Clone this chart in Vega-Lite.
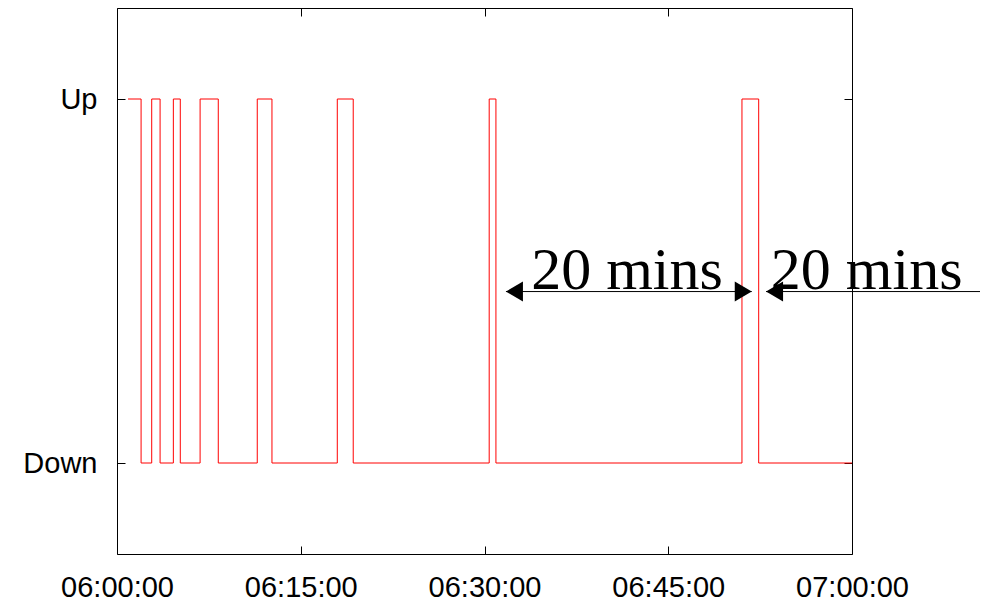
{
  "$schema": "https://vega.github.io/schema/vega-lite/v6.json",
  "width": 735,
  "height": 546,
  "autosize": {"type": "none"},
  "padding": {"left": 117, "top": 8, "right": 137, "bottom": 48},
  "background": "white",
  "config": {
    "view": {"stroke": null},
    "axis": {
      "domainColor": "black",
      "domainWidth": 1,
      "tickColor": "black",
      "tickWidth": 1,
      "grid": false,
      "title": null,
      "labelFont": "Liberation Sans",
      "labelFontSize": 29,
      "labelColor": "black"
    }
  },
  "datasets": {
    "series": [
      {"t": "2020-01-01T06:00:54", "state": 1},
      {"t": "2020-01-01T06:01:58", "state": 0},
      {"t": "2020-01-01T06:02:50", "state": 1},
      {"t": "2020-01-01T06:03:31", "state": 0},
      {"t": "2020-01-01T06:04:36", "state": 1},
      {"t": "2020-01-01T06:05:10", "state": 0},
      {"t": "2020-01-01T06:06:47", "state": 1},
      {"t": "2020-01-01T06:08:16", "state": 0},
      {"t": "2020-01-01T06:11:27", "state": 1},
      {"t": "2020-01-01T06:12:39", "state": 0},
      {"t": "2020-01-01T06:17:59", "state": 1},
      {"t": "2020-01-01T06:19:17", "state": 0},
      {"t": "2020-01-01T06:30:23", "state": 1},
      {"t": "2020-01-01T06:30:56", "state": 0},
      {"t": "2020-01-01T06:51:01", "state": 1},
      {"t": "2020-01-01T06:52:23", "state": 0},
      {"t": "2020-01-01T07:00:00", "state": 0}
    ],
    "arrows": [
      {"start": "2020-01-01T06:31:45", "end": "2020-01-01T06:51:49", "y": 0.471},
      {"start": "2020-01-01T06:52:59", "end": "2020-01-01T07:10:27", "y": 0.471}
    ],
    "heads": [
      {"t": "2020-01-01T06:31:45", "y": 0.471, "dir": "left"},
      {"t": "2020-01-01T06:51:49", "y": 0.471, "dir": "right"},
      {"t": "2020-01-01T06:52:59", "y": 0.471, "dir": "left"}
    ],
    "labels": [
      {"t": "2020-01-01T06:41:38", "y": 0.478, "label": "20 mins"},
      {"t": "2020-01-01T07:01:12", "y": 0.478, "label": "20 mins"}
    ]
  },
  "layer": [
    {
      "data": {"name": "series"},
      "mark": {"type": "line", "interpolate": "step-after", "color": "#ff0000", "strokeWidth": 1},
      "encoding": {
        "x": {
          "field": "t", "type": "temporal",
          "scale": {"domain": [{"year": 2020, "month": 1, "date": 1, "hours": 6}, {"year": 2020, "month": 1, "date": 1, "hours": 7}]},
          "axis": {
            "orient": "bottom",
            "format": "%H:%M:%S",
            "values": [
              {"year": 2020, "month": 1, "date": 1, "hours": 6, "minutes": 0},
              {"year": 2020, "month": 1, "date": 1, "hours": 6, "minutes": 15},
              {"year": 2020, "month": 1, "date": 1, "hours": 6, "minutes": 30},
              {"year": 2020, "month": 1, "date": 1, "hours": 6, "minutes": 45},
              {"year": 2020, "month": 1, "date": 1, "hours": 7, "minutes": 0}
            ],
            "tickSize": -8,
            "labelPadding": 27,
            "labelFlush": false,
            "labelOverlap": false
          }
        },
        "y": {
          "field": "state", "type": "quantitative",
          "scale": {"domain": [-0.25, 1.25], "nice": false, "zero": false},
          "axis": {
            "orient": "left",
            "values": [0, 1],
            "labelExpr": "datum.value == 1 ? 'Up' : 'Down'",
            "tickSize": -8,
            "labelPadding": 28
          }
        }
      }
    },
    {
      "data": {"name": "series"},
      "mark": {"type": "line", "opacity": 0},
      "encoding": {
        "x": {
          "field": "t", "type": "temporal",
          "axis": {
            "orient": "top",
            "labels": false,
            "values": [
              {"year": 2020, "month": 1, "date": 1, "hours": 6, "minutes": 0},
              {"year": 2020, "month": 1, "date": 1, "hours": 6, "minutes": 15},
              {"year": 2020, "month": 1, "date": 1, "hours": 6, "minutes": 30},
              {"year": 2020, "month": 1, "date": 1, "hours": 6, "minutes": 45},
              {"year": 2020, "month": 1, "date": 1, "hours": 7, "minutes": 0}
            ],
            "tickSize": -8
          }
        },
        "y": {
          "field": "state", "type": "quantitative",
          "axis": {"orient": "right", "labels": false, "values": [0, 1], "tickSize": -8}
        }
      }
    },
    {
      "data": {"name": "arrows"},
      "mark": {"type": "rule", "color": "black", "strokeWidth": 1},
      "encoding": {
        "x": {"field": "start", "type": "temporal", "axis": null},
        "x2": {"field": "end"},
        "y": {"field": "y", "type": "quantitative", "axis": null}
      }
    },
    {
      "data": {"name": "heads"},
      "mark": {"type": "point", "filled": true, "color": "black", "opacity": 1, "size": 400, "strokeWidth": 0},
      "encoding": {
        "x": {"field": "t", "type": "temporal", "axis": null},
        "y": {"field": "y", "type": "quantitative", "axis": null},
        "shape": {
          "field": "dir", "type": "nominal",
          "scale": {"domain": ["left", "right"], "range": ["M0,0L1.7,-1L1.7,1Z", "M0,0L-1.7,-1L-1.7,1Z"]},
          "legend": null
        }
      }
    },
    {
      "data": {"name": "labels"},
      "mark": {"type": "text", "font": "Liberation Serif", "fontSize": 60, "align": "center", "baseline": "alphabetic", "color": "black"},
      "encoding": {
        "x": {"field": "t", "type": "temporal", "axis": null},
        "y": {"field": "y", "type": "quantitative", "axis": null},
        "text": {"field": "label"}
      }
    }
  ],
  "resolve": {"axis": {"x": "independent", "y": "independent"}}
}
